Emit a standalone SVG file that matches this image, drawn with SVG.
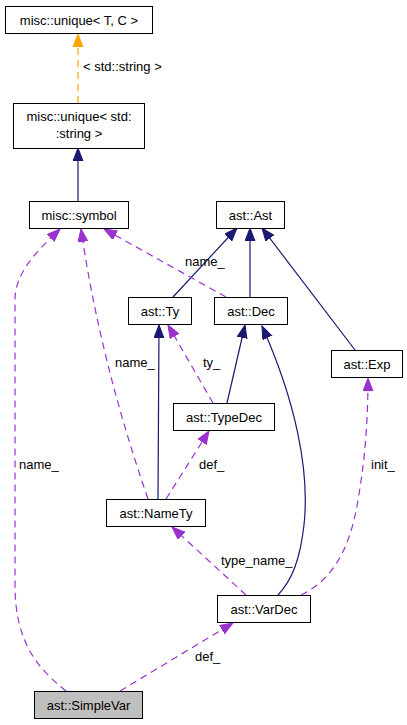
<svg xmlns="http://www.w3.org/2000/svg" width="407" height="725" viewBox="0 0 407 725">
<style>
.box{fill:#ffffff;stroke:#000000;stroke-width:1}
.gray{fill:#bfbfbf}
.t{font-family:"Liberation Sans",Arial,sans-serif;font-size:13px;fill:#000000}
.c{text-anchor:middle}
.nv{fill:none;stroke:#191970;stroke-width:1.2}
.pu{fill:none;stroke:#9a32cd;stroke-width:1.2;stroke-dasharray:7,5}
.or{fill:none;stroke:#ffa500;stroke-width:1.2;stroke-dasharray:7,5}
</style>
<defs>
<marker id="aN" markerUnits="userSpaceOnUse" markerWidth="14" markerHeight="11" refX="13" refY="5" orient="auto"><path d="M0,0 L13,5 L0,10 z" fill="#191970" stroke="#191970"/></marker>
<marker id="aP" markerUnits="userSpaceOnUse" markerWidth="14" markerHeight="11" refX="13" refY="5" orient="auto"><path d="M0,0 L13,5 L0,10 z" fill="#9a32cd" stroke="#9a32cd"/></marker>
<marker id="aO" markerUnits="userSpaceOnUse" markerWidth="14" markerHeight="11" refX="13" refY="5" orient="auto"><path d="M0,0 L13,5 L0,10 z" fill="#ffa500" stroke="#ffa500"/></marker>
</defs>
<rect width="407" height="725" fill="#ffffff"/>
<g id="edges">
<path class="or" d="M78,103 L78,34" marker-end="url(#aO)"/>
<path class="nv" d="M78,201 L78,148" marker-end="url(#aN)"/>
<path class="nv" d="M173,297 L237,228" marker-end="url(#aN)"/>
<path class="nv" d="M250,297 L250,228" marker-end="url(#aN)"/>
<path class="nv" d="M355,350 L262,228" marker-end="url(#aN)"/>
<path class="nv" d="M227,403 L245,325" marker-end="url(#aN)"/>
<path class="nv" d="M158,499 L159,325" marker-end="url(#aN)"/>
<path class="nv" d="M278,595 C292,580 300,560 304,525 C310,470 295,400 262,326" marker-end="url(#aN)"/>
<path class="pu" d="M226,297 L104,229" marker-end="url(#aP)"/>
<path class="pu" d="M148,499 Q100,360 81,229" marker-end="url(#aP)"/>
<path class="pu" d="M213,403 L168,325" marker-end="url(#aP)"/>
<path class="pu" d="M166,499 L209,431" marker-end="url(#aP)"/>
<path class="pu" d="M246,595 L172,527" marker-end="url(#aP)"/>
<path class="pu" d="M301,595 C332,580 350,550 358,500 C365,460 368,420 368,378" marker-end="url(#aP)"/>
<path class="pu" d="M120,691 L233,623" marker-end="url(#aP)"/>
<path class="pu" d="M66,691 C40,670 15,645 15,585 L15,300 C15,272 38,250 60,229" marker-end="url(#aP)"/>
<text class="t" x="83" y="71">&lt; std::string &gt;</text>
<text class="t" x="185" y="266">name_</text>
<text class="t" x="115" y="367">name_</text>
<text class="t" x="203" y="367">ty_</text>
<text class="t" x="199" y="469">def_</text>
<text class="t" x="371" y="469">init_</text>
<text class="t" x="19" y="469">name_</text>
<text class="t" x="221" y="565">type_name_</text>
<text class="t" x="195" y="661">def_</text>
</g>
<g id="unique_tc"><rect class="box" x="5.5" y="6.5" width="147" height="27"/><text class="t c" x="79" y="24.5">misc::unique&lt; T, C &gt;</text></g>
<g id="unique_str"><rect class="box" x="13.5" y="103.5" width="131" height="45"/><text class="t c" x="79" y="121">misc::unique&lt; std:</text><text class="t c" x="79" y="138">:string &gt;</text></g>
<g id="symbol"><rect class="box" x="29.5" y="201.5" width="99" height="27"/><text class="t c" x="79" y="219.5">misc::symbol</text></g>
<g id="ast"><rect class="box" x="216.5" y="201.5" width="68" height="27"/><text class="t c" x="250.5" y="219.5">ast::Ast</text></g>
<g id="ty"><rect class="box" x="128.5" y="297.5" width="63" height="27"/><text class="t c" x="160" y="315.5">ast::Ty</text></g>
<g id="dec"><rect class="box" x="214.5" y="297.5" width="73" height="27"/><text class="t c" x="251" y="315.5">ast::Dec</text></g>
<g id="exp"><rect class="box" x="331.5" y="350.5" width="71" height="27"/><text class="t c" x="367" y="368.5">ast::Exp</text></g>
<g id="typedec"><rect class="box" x="173.5" y="403.5" width="101" height="27"/><text class="t c" x="224" y="421.5">ast::TypeDec</text></g>
<g id="namety"><rect class="box" x="106.5" y="499.5" width="99" height="27"/><text class="t c" x="156" y="517.5">ast::NameTy</text></g>
<g id="vardec"><rect class="box" x="217.5" y="595.5" width="93" height="27"/><text class="t c" x="264" y="613.5">ast::VarDec</text></g>
<g id="simplevar"><rect class="box gray" x="34.5" y="691.5" width="108" height="27"/><text class="t c" x="88.5" y="709.5">ast::SimpleVar</text></g>
</svg>
